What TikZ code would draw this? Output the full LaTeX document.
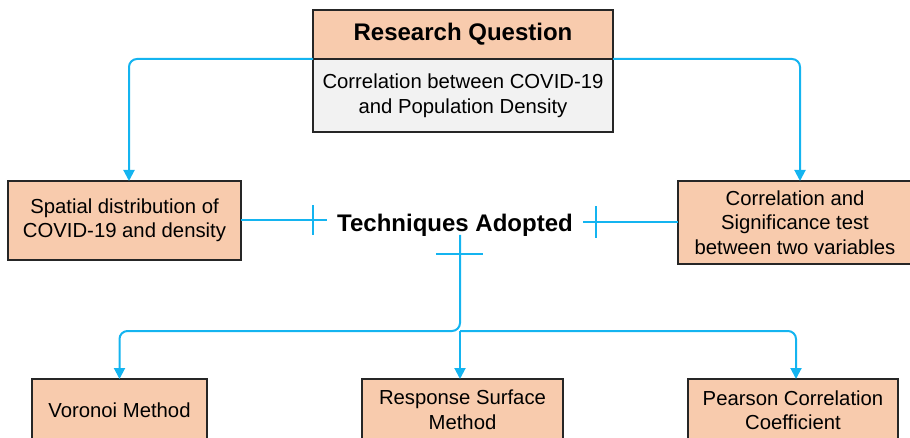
\documentclass[tikz,border=0pt]{standalone}
\usepackage{fontspec}
\setmainfont{Liberation Sans}
\usetikzlibrary{arrows.meta,positioning,calc}
\definecolor{peach}{HTML}{F8CBAD}
\definecolor{paleGray}{HTML}{F2F2F2}
\definecolor{linkBlue}{HTML}{14B4F0}
\def \tickHalf {15pt}
\tikzset{
 	headerblock/.style= {draw=black!85, rectangle, align=center, minimum width=300pt, minimum height=49pt, fill=peach, font=\fontsize{24}{28}\selectfont\bfseries, line width=1.5pt, outer sep=0pt},
 	bodyblock/.style= {draw=black!85, rectangle, align=center, minimum width=300pt, minimum height=73pt, fill=paleGray, font=\fontsize{20.3}{25}\selectfont, line width=1.5pt, outer sep=0pt},
 	block/.style= {draw=black!85, rectangle, align=center, fill=peach, font=\fontsize{20.3}{24.5}\selectfont, line width=1.5pt, inner sep=0pt, outer sep=0pt},
 	titletext/.style= {align=center, font=\fontsize{24}{28}\selectfont\bfseries, inner sep=0pt},
 	link/.style= {draw=linkBlue, line width=2pt, rounded corners=8pt, -{Triangle[width=11pt,length=11pt]}},
 	tick/.style= {draw=linkBlue, line width=2pt}
 }
\begin{document}
\begin{tikzpicture}[x=1pt, y=1pt]
\useasboundingbox (0,0) rectangle (910,-438);

%%%%%%%%%%%%%%%%%%%%% Nodes %%%%%%%%%%%%%%%%%%%%%
	\node [headerblock] (rq) at (463,-34.5) {Research Question};
    \node [bodyblock, below = 0pt of rq] (rqtext) {Correlation between COVID-19\\and Population Density};
    \node [block, minimum width=233pt, minimum height=79pt] (spatial) at (124.5,-220.5) {Spatial distribution of\\COVID-19 and density};
    \node [block, minimum width=234pt, minimum height=83pt] (corrtest) at (795,-222.5) {Correlation and\\Significance test\\between two variables};
    \node [titletext, anchor=base] (tech) at (455,-232) {Techniques Adopted};
    \node [block, minimum width=175pt, minimum height=62pt] (voronoi) at (119.5,-410) {Voronoi Method};
    \node [block, minimum width=201pt, minimum height=62pt] (rsm) at (462.5,-410) {Response Surface\\Method};
    \node [block, minimum width=210pt, minimum height=62pt] (pearson) at (793,-410) {Pearson Correlation\\Coefficient};

%%%%%%%%%%%%%%%%%%%%% Connectors %%%%%%%%%%%%%%%%%%%%%
    \coordinate (spatialEnd) at (327,-220.5);
    \coordinate (corrEnd) at (583,-222.5);
    \coordinate (techStart) at (460,-235);
    \coordinate (split) at (460,-331);

    \draw [link] (rq.south west) -| ([xshift=4.5pt]spatial.north);
    \draw [link] (rq.south east) -| ([xshift=5pt]corrtest.north);

    \draw [tick] (spatial.east) -- (spatialEnd);
    \draw [tick] ([xshift=-14pt]spatialEnd) ++(0,\tickHalf) -- ++(0,-30);
    \draw [tick] (corrtest.west) -- (corrEnd);
    \draw [tick] ([xshift=13pt]corrEnd) ++(0,\tickHalf+1) -- ++(0,-32);
    \draw [tick] ([shift={(-24pt,-19pt)}]techStart) -- ++(47,0);

    \draw [link] (techStart) -- (split) -| (voronoi.north);
    \draw [link] (split) -- (split |- rsm.north);
    \draw [link] (split) -| ([xshift=3pt]pearson.north);

\end{tikzpicture}
\end{document}
